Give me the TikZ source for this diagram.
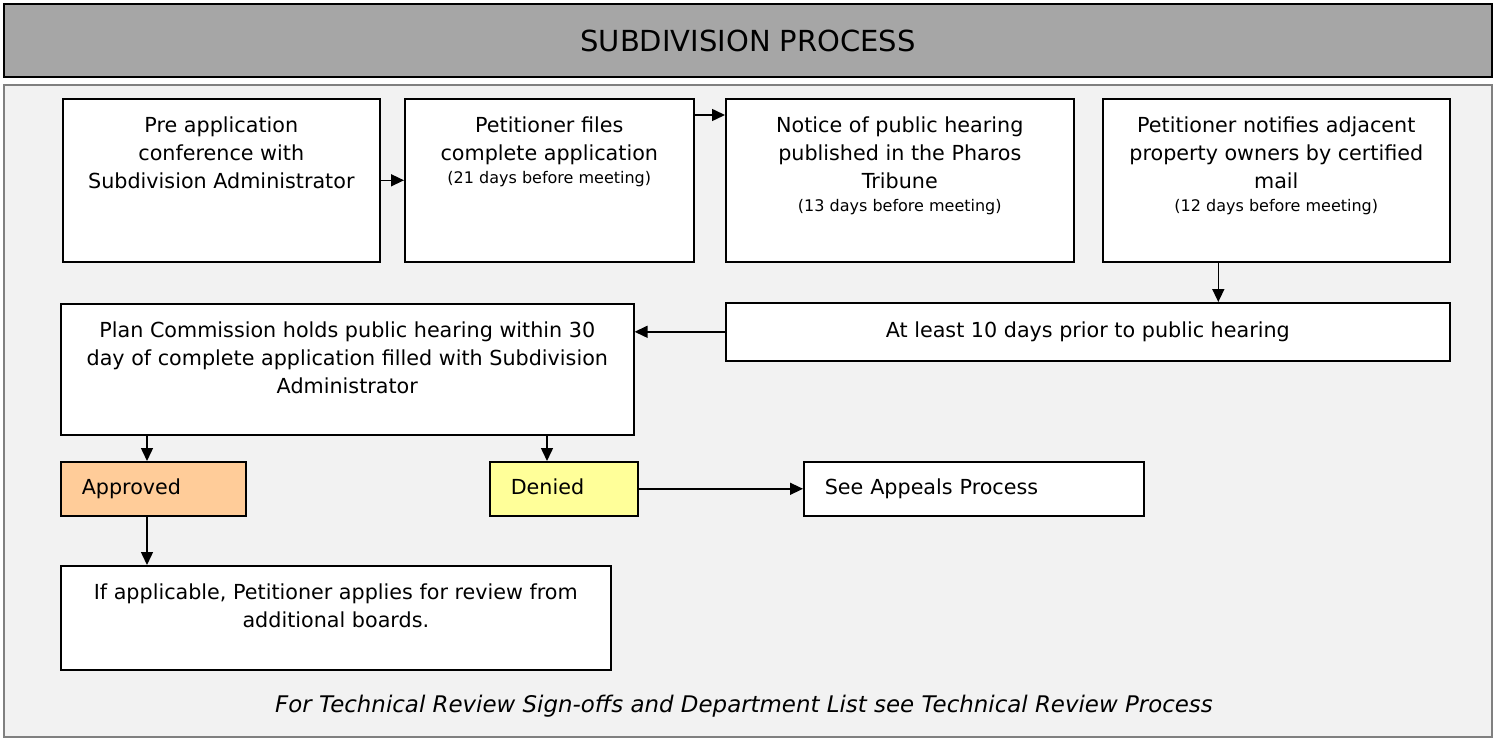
\documentclass[tikz,border=0pt]{standalone}
\usepackage{fontspec}
\setmainfont{DejaVu Sans}
\usetikzlibrary{arrows.meta}

\definecolor{titlegray}{HTML}{A6A6A6}
\definecolor{panelgray}{HTML}{F2F2F2}
\definecolor{framegray}{HTML}{808080}
\definecolor{approvedfill}{HTML}{FFCC99}
\definecolor{deniedfill}{HTML}{FFFF99}
\newcommand{\mainsize}{\fontsize{20.7}{28}\selectfont}
\newcommand{\daysize}{\fontsize{16}{20}\selectfont}

\begin{document}
\begin{tikzpicture}[
	x=1pt, y=-1pt,
	font=\mainsize,
	box/.style={draw, line width=1.6pt, fill=white, anchor=north west, inner sep=0pt},
	txt/.style={anchor=north, align=center, inner sep=0pt, yshift=-19pt},
	tag/.style={box, inner xsep=21pt, align=left, minimum height=54pt, text height=15.7pt, text depth=4.9pt},
	arr/.style={line width=1.5pt, -{Triangle[length=13pt,width=12pt]}}]
\useasboundingbox (0,0) rectangle (1494,738);

\node[draw, line width=2.2pt, fill=titlegray, anchor=north west, inner sep=0pt,
	minimum width=1488pt, minimum height=73pt, font=\fontsize{29}{34}\selectfont] (title) at (3,3) {SUBDIVISION PROCESS};
\node[draw=framegray, line width=2.2pt, fill=panelgray, anchor=north west,
	minimum width=1488pt, minimum height=652pt] (panel) at (3,84) {};

\node[box, minimum width=317pt, minimum height=163pt] (pre) at (62,98) {};
\node[txt] (pre-t) at (pre.north) {Pre application\\conference with\\Subdivision Administrator};
\node[box, minimum width=289pt, minimum height=163pt] (files) at (404,98) {};
\node[txt] (files-t) at (files.north) {Petitioner files\\complete application\\[-5pt]{\daysize (21 days before meeting)}};
\node[box, minimum width=348pt, minimum height=163pt] (notice) at (725,98) {};
\node[txt] (notice-t) at (notice.north) {Notice of public hearing\\published in the Pharos\\Tribune\\[-5pt]{\daysize (13 days before meeting)}};
\node[box, minimum width=347pt, minimum height=163pt] (notify) at (1102,98) {};
\node[txt] (notify-t) at (notify.north) {Petitioner notifies adjacent\\property owners by certified\\mail\\[-5pt]{\daysize (12 days before meeting)}};

\node[box, minimum width=724pt, minimum height=58pt] (atleast) at (725,302) {At least 10 days prior to public hearing};
\node[box, minimum width=573pt, minimum height=131pt] (plan) at (60,303) {};
\node[txt] (plan-t) at (plan.north) {Plan Commission holds public hearing within 30\\day of complete application filled with Subdivision\\Administrator};

\node[tag, fill=approvedfill, text width=143pt] (approved) at (60,461) {Approved};
\node[tag, fill=deniedfill, text width=106pt] (denied) at (489,461) {Denied};
\node[tag, text width=298pt] (appeals) at (803,461) {See Appeals Process};

\node[box, minimum width=550pt, minimum height=104pt] (boards) at (60,565) {};
\node[txt] (boards-t) at (boards.north) {If applicable, Petitioner applies for review from\\additional boards.};

\node[font={\fontsize{22.9}{28}\selectfont\itshape}] (note) at (744,706) {For Technical Review Sign-offs and Department List see Technical Review Process};

\coordinate (drop) at ([xshift=-58pt]notify.south);
\coordinate (yes) at ([xshift=87pt]approved.north west);
\coordinate (no) at ([xshift=58pt]denied.north west);
\coordinate (next) at ([xshift=87pt]approved.south west);

\draw[arr] (pre) -- (files);
\draw[arr] ([yshift=-17pt]files.north east) -- ([yshift=-17pt]notice.north west);
\draw[arr] (drop) -- (drop |- atleast.north);
\draw[arr] (atleast.west) -- (atleast.west -| plan.east);
\draw[arr] (plan.south -| yes) -- (yes);
\draw[arr] (plan.south -| no) -- (no);
\draw[arr] (denied) -- (appeals);
\draw[arr] (next) -- (next |- boards.north);
\end{tikzpicture}
\end{document}
